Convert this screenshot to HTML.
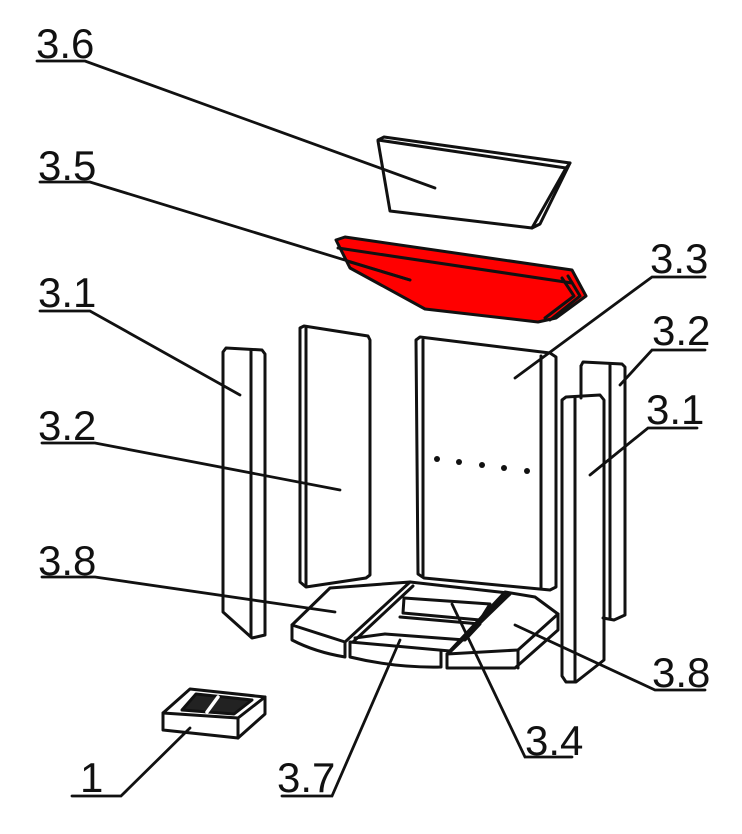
<!DOCTYPE html>
<html><head><meta charset="utf-8"><style>
html,body{margin:0;padding:0;background:#fff;}
svg{display:block;}
text{font-family:"Liberation Sans",sans-serif;font-size:42px;fill:#111;}
</style></head><body>
<svg width="742" height="834" viewBox="0 0 742 834" xmlns="http://www.w3.org/2000/svg">
<g fill="none" stroke="#111" stroke-width="3" stroke-linejoin="round" stroke-linecap="round">
<path d="M378,140 L384,137 L570,163 L566,168 L378,140 Z"/>
<path d="M378,141 L390,211 L532,228 L566,168"/>
<path d="M532,228 L540,224 L570,163"/>
<path d="M336,240 L345,237 L572,270 L586,296 L556,318 L538,322 L425,309 L350,268 Z" fill="#ff0000"/>
<path d="M338,248 L572,283" />
<path d="M350,262 L410,280"/>
<path d="M568,276 L580,296 L550,320" />
<path d="M562,278 L574,296 L545,318" />
<path d="M223,352 L226,348 L262,350 L265,354 L265,635 L252,638 L223,612 Z"/>
<path d="M251,350 L251,637"/>
<path d="M300,328 L304,326 L368,336 L370,340 L370,575 L366,578 L306,587 L300,582 Z"/>
<path d="M306,328 L306,586"/>
<path d="M416,340 L420,337 L550,353 L556,357 L556,587 L550,590 L424,578 L418,574 Z"/>
<path d="M423,340 L423,577"/>
<path d="M541,356 L541,588"/>
<path d="M581,366 L583,362 L622,364 L625,367 L625,615 L614,620 L603,618"/>
<path d="M581,366 L581,398"/>
<path d="M610,364 L610,618"/>
<path d="M562,400 L566,397 L600,395 L604,400 L604,660 L576,682 L566,682 L562,676 Z"/>
<path d="M575,397 L575,681"/>
<path d="M292,625 L330,588 L410,582 L345,642 Z"/>
<path d="M292,625 L292,640 Q315,652 345,657 L345,642"/>
<path d="M410,582 L508,593 L450,651 L350,642"/>
<path d="M413,586 L353,642"/>
<path d="M404,598 L490,604 L480,620 L403,613 Z"/>
<path d="M400,617 L480,624 L465,640 L385,634"/>
<path d="M385,634 L355,638"/>
<path d="M350,643 L350,657 Q395,668 441,667 L441,652"/>
<path d="M505,592 L535,597 L558,614 L518,650 L447,654 Z"/>
<path d="M510,594 L450,652"/>
<path d="M447,654 L447,668 L515,668 L558,630 L558,614"/>
<path d="M518,650 L518,668"/>
<path d="M163,713 L190,689 L265,697 L238,718 Z"/>
<path d="M163,713 L163,730 L238,738 L238,718"/>
<path d="M238,738 L265,714 L265,697"/>
<path d="M182,710 L196,694 L252,700 L234,714 Z" fill="#222"/>
<path d="M207,712 L218,697" stroke="#fff" stroke-width="3.5"/>
</g>
<g fill="#111">
<circle cx="437" cy="459" r="3"/><circle cx="459" cy="462" r="3"/><circle cx="482" cy="465" r="3"/><circle cx="504" cy="468" r="3"/><circle cx="527" cy="471" r="3"/>
</g>
<g fill="none" stroke="#111" stroke-width="2.8" stroke-linecap="round">
<path d="M37,61 L85,61 L435,188"/>
<path d="M40,182 L90,182 L410,280"/>
<path d="M40,311 L90,311 L240,395"/>
<path d="M42,443 L95,443 L340,490"/>
<path d="M42,577 L95,577 L335,612"/>
<path d="M705,277 L652,277 L515,378"/>
<path d="M705,350 L652,350 L620,385"/>
<path d="M697,428 L648,428 L590,475"/>
<path d="M705,690 L655,690 L515,625"/>
<path d="M572,757 L525,757 L452,604"/>
<path d="M282,796 L332,796 L400,640"/>
<path d="M72,796 L121,796 L190,728"/>
</g>
<g>
<text x="36" y="58">3.6</text>
<text x="38" y="180">3.5</text>
<text x="38" y="307">3.1</text>
<text x="38" y="440">3.2</text>
<text x="38" y="575">3.8</text>
<text x="650" y="273">3.3</text>
<text x="652" y="345">3.2</text>
<text x="646" y="424">3.1</text>
<text x="652" y="687">3.8</text>
<text x="525" y="755">3.4</text>
<text x="277" y="792">3.7</text>
<text x="80" y="792">1</text>
</g>
</svg>
</body></html>
